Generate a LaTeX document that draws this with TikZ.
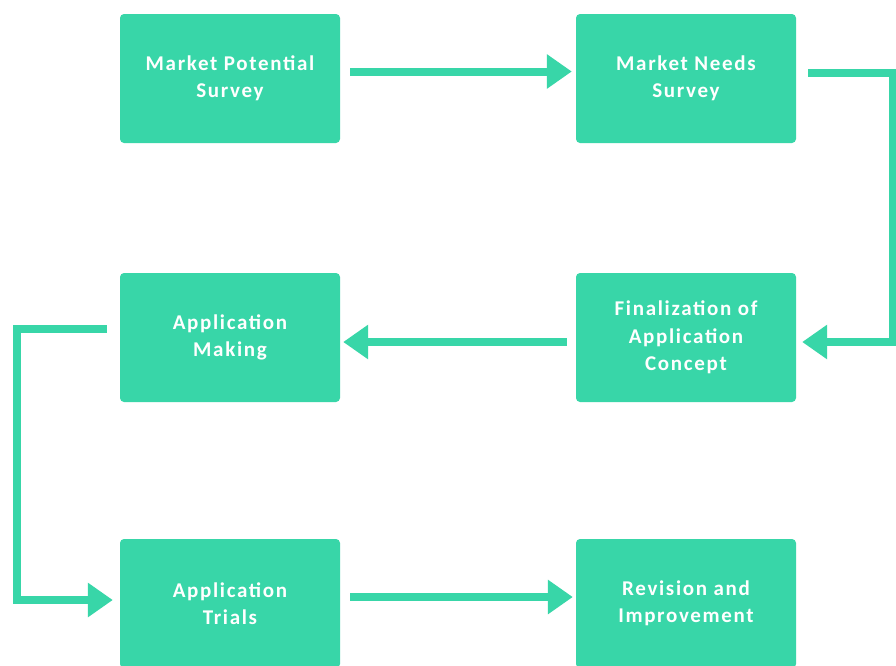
\documentclass[tikz,border=0pt]{standalone}
\usepackage{fontspec}
\setmainfont{Carlito}[LetterSpace=8]
\usetikzlibrary{arrows.meta}
\definecolor{mint}{RGB}{56,214,168}

\begin{document}
\begin{tikzpicture}[x=1pt,y=-1pt,
	stage/.style={rectangle,rounded corners=4pt,fill=mint,inner sep=0pt,
		minimum width=220pt,minimum height=129pt,align=center,text=white,
		font=\fontsize{21}{27.5}\selectfont\bfseries},
	flow/.style={draw=mint,line width=8pt,-{Triangle[length=25pt,width=33pt]}}]
%	\draw[step=50,red,very thin] (0,0) grid (896,665);
	\clip (0,0) rectangle (896,665);
	\fill[white] (0,0) rectangle (896,665);

	% top row
	\node[stage] (potential) at (230,78.5) {Market Potential\\Survey};
	\node[stage] (needs) at (686,78.5) {Market Needs\\Survey};

	% middle row
	\node[stage] (making) at (230,337.5) {Application\\Making};
	\node[stage] (concept) at (686,337.5) {Finalization of\\Application\\Concept};

	% bottom row, cut by the page edge
	\node[stage] (trials) at (230,603.5) {Application\\Trials};
	\node[stage] (revision) at (686,603.5) {Revision and\\Improvement};

	\draw[flow] ([xshift=10pt,yshift=7pt]potential.east) -- ([xshift=-4pt,yshift=7pt]needs.west);
	\draw[flow] ([xshift=12pt,yshift=6pt]needs.east) -- ++(85,0) |- ([xshift=6pt,yshift=-4.5pt]concept.east);
	\draw[flow] ([xshift=-9pt,yshift=-4.5pt]concept.west) -- ([xshift=3pt,yshift=-4.5pt]making.east);
	\draw[flow] ([xshift=-13pt,yshift=8.5pt]making.west) -- ++(-90,0) |- ([xshift=-7pt,yshift=3.5pt]trials.west);
	\draw[flow] ([xshift=10pt,yshift=6.5pt]trials.east) -- ([xshift=-3pt,yshift=6.5pt]revision.west);
\end{tikzpicture}
\end{document}
